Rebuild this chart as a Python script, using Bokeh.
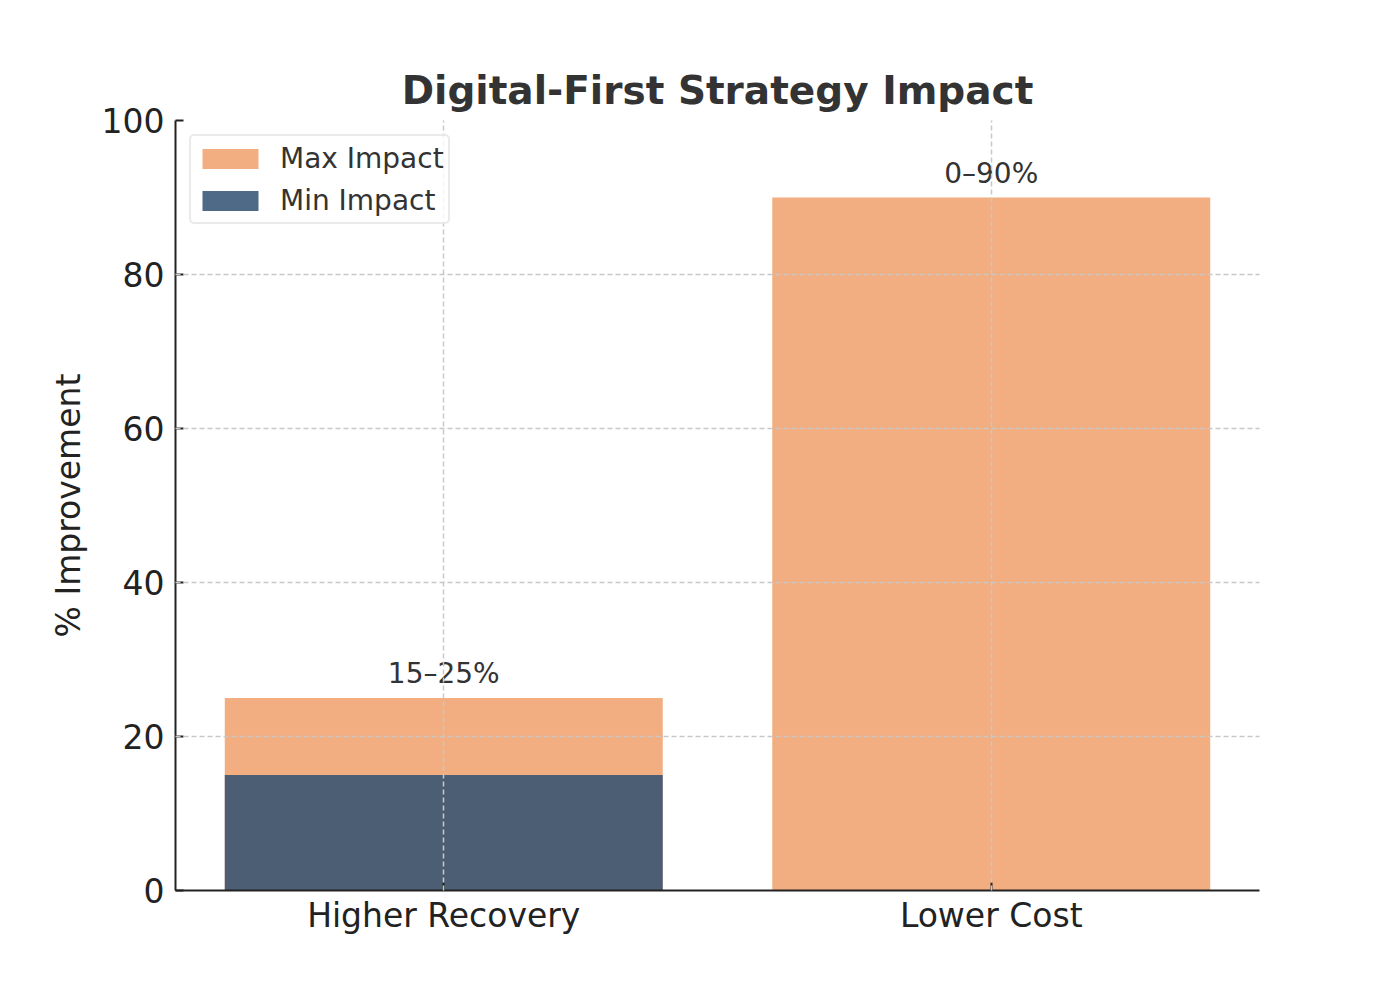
from bokeh.plotting import figure
from bokeh.models import Range1d, FixedTicker, ColumnDataSource, Legend, LegendItem
from bokeh.core.properties import value
from bokeh.embed import file_html
from bokeh.resources import INLINE

categories = ["Higher Recovery", "Lower Cost"]
min_impact = [15, 0]
max_impact = [25, 90]
range_labels = ["15–25%", "0–90%"]
y_ticks = [0, 20, 40, 60, 80, 100]

FONT = "DejaVu Sans"
ORANGE = "#f0a06a"
BLUE = "#2f5071"
ALPHA = 0.85

xs = list(range(len(categories)))
src = ColumnDataSource(dict(x=xs, lo=min_impact, hi=max_impact, lab=range_labels))

p = figure(
    frame_width=1084, frame_height=770,
    x_range=Range1d(-0.49, 1.49), y_range=Range1d(0, 100),
    output_backend="svg", toolbar_location=None,
    min_border_left=175, min_border_right=124, min_border_top=120, min_border_bottom=100,
)
p.outline_line_color = None
p.background_fill_color = "white"
p.border_fill_color = "white"

r_max = p.vbar(x="x", top="hi", bottom=0, width=0.8, source=src,
               fill_color=ORANGE, fill_alpha=ALPHA, line_color=None)
r_min = p.vbar(x="x", top="lo", bottom=0, width=0.8, source=src,
               fill_color=BLUE, fill_alpha=ALPHA, line_color=None)

p.text(x="x", y="hi", text="lab", source=src, text_align="center",
       text_baseline="bottom", y_offset=-8, text_font=value(FONT),
       text_font_size="28px", text_color="#333333")

# title
p.title.text = "Digital-First Strategy Impact"
p.title.align = "center"
p.title.text_font = FONT
p.title.text_font_size = "39px"
p.title.text_font_style = "bold"
p.title.text_color = "#333333"
p.title.standoff = 15

# axes
for ax in (p.xaxis[0], p.yaxis[0]):
    ax.axis_line_color = "#222222"
    ax.axis_line_width = 2
    ax.major_tick_line_color = "#222222"
    ax.major_tick_line_width = 2
    ax.major_tick_in = 8
    ax.major_tick_out = 0
    ax.minor_tick_line_color = None
    ax.major_label_text_font = FONT
    ax.major_label_text_font_size = "33px"
    ax.major_label_text_color = "#222222"
    ax.axis_label_text_font = FONT
    ax.axis_label_text_font_size = "33px"
    ax.axis_label_text_font_style = "normal"
    ax.axis_label_text_color = "#222222"

p.xaxis.ticker = FixedTicker(ticks=xs)
p.xaxis.major_label_overrides = {i: c for i, c in enumerate(categories)}
p.xaxis.major_label_standoff = 5
p.yaxis.ticker = FixedTicker(ticks=y_ticks)
p.yaxis.major_label_standoff = 11
p.yaxis.axis_label = "% Improvement"
p.yaxis.axis_label_standoff = 11

# grid over bars
for g in (p.xgrid[0], p.ygrid[0]):
    g.grid_line_color = "#c8c8c8"
    g.grid_line_dash = "5 3"
    g.grid_line_width = 1.5
    g.level = "annotation"
p.xgrid.ticker = FixedTicker(ticks=xs)
p.ygrid.ticker = FixedTicker(ticks=y_ticks)

legend = Legend(items=[LegendItem(label="Max Impact", renderers=[r_max]),
                       LegendItem(label="Min Impact", renderers=[r_min])],
                location="top_left")
legend.label_text_font = FONT
legend.label_text_font_size = "28px"
legend.label_text_color = "#333333"
legend.glyph_width = 70
legend.glyph_height = 25
legend.label_height = 36
legend.label_standoff = 15
legend.spacing = 6
legend.padding = 4
legend.margin = 14
legend.border_line_color = "#d6d6d6"
legend.border_line_width = 2
legend.border_radius = 5
legend.background_fill_alpha = 0.8
p.add_layout(legend, "center")

open("out.html", "w").write(file_html(p, INLINE))
